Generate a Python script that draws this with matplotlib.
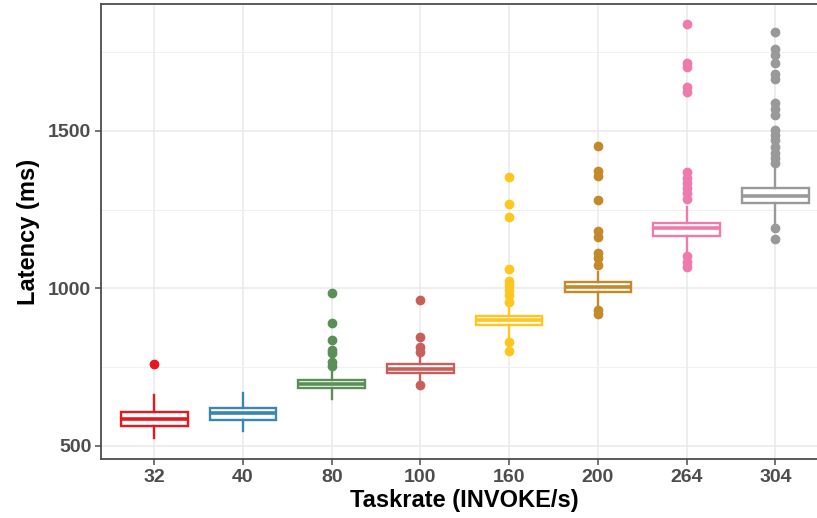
import matplotlib
matplotlib.use("Agg")
import matplotlib.pyplot as plt
from matplotlib.ticker import MultipleLocator

categories = ["32", "40", "80", "100", "160", "200", "264", "304"]
colors = ["#E8171F", "#3A86B0", "#5B8F58", "#C95F5A", "#FFC61E", "#C4892B", "#EE7BAC", "#999999"]

q1 = [563, 581, 682, 731, 883, 987, 1166, 1270]
medians = [585, 603, 697, 745, 898, 1003, 1191, 1293]
q3 = [606, 620, 710, 758, 912, 1019, 1206, 1318]
whisker_low = [523, 548, 648, 709, 846, 942, 1111, 1196]
whisker_high = [660, 667, 735, 783, 942, 1053, 1257, 1386]
outliers = [
    [760],
    [],
    [984, 889, 836, 805, 795, 765, 752],
    [962, 845, 814, 798, 694],
    [1352, 1268, 1228, 1062, 1024, 1010, 994, 979, 957, 828, 802],
    [1453, 1374, 1358, 1281, 1183, 1162, 1111, 1095, 1074, 931, 917],
    [1840, 1715, 1704, 1638, 1623, 1368, 1349, 1333, 1318, 1302, 1284, 1102, 1084, 1068],
    [1815, 1759, 1741, 1717, 1681, 1665, 1588, 1571, 1551, 1503, 1487, 1471, 1450,
     1429, 1413, 1397, 1191, 1156],
]

fig = plt.figure(figsize=(8.17, 5.18), dpi=100)
ax = fig.add_axes([101 / 817, 1 - 459.3 / 518, (828.6 - 101) / 817, (459.3 - 4) / 518])

stats = []
for i in range(len(categories)):
    stats.append(dict(med=medians[i], q1=q1[i], q3=q3[i],
                      whislo=whisker_low[i], whishi=whisker_high[i],
                      fliers=outliers[i], label=categories[i]))

positions = list(range(1, len(categories) + 1))
for i, st in enumerate(stats):
    c = colors[i]
    ax.bxp([st], positions=[positions[i]], widths=0.75, showcaps=False,
           patch_artist=True,
           boxprops=dict(facecolor="white", edgecolor=c, linewidth=1.7),
           medianprops=dict(color=c, linewidth=2.6, solid_capstyle="butt"),
           whiskerprops=dict(color=c, linewidth=1.7),
           flierprops=dict(marker="o", markerfacecolor=c, markeredgecolor=c,
                           markersize=6.0, linestyle="none"),
           zorder=3)

ax.set_xlim(0.4, 8.6)
ax.set_ylim(456.8, 1903.1)
ax.set_xticks(positions)
ax.set_xticklabels(categories)
ax.yaxis.set_major_locator(MultipleLocator(500))
ax.yaxis.set_minor_locator(MultipleLocator(250))

ax.grid(which="major", color="#EBEBEB", linewidth=1.2, zorder=0)
ax.grid(which="minor", axis="y", color="#F0F0F0", linewidth=0.7, zorder=0)
ax.set_axisbelow(True)

for side in ["left", "bottom", "top", "right"]:
    ax.spines[side].set_color("#4D4D4D")
    ax.spines[side].set_linewidth(1.3)

ax.tick_params(axis="both", which="major", length=4, width=1.1, color="#4D4D4D",
               labelcolor="#4D4D4D", labelsize=14, pad=3)
ax.tick_params(axis="y", which="minor", length=0)
for lab in ax.get_xticklabels() + ax.get_yticklabels():
    lab.set_fontweight("bold")
    lab.set_family("Liberation Sans")

ax.set_xlabel("Taskrate (INVOKE/s)", fontsize=17, fontweight="bold",
              family="Liberation Sans", color="black", labelpad=2)
ax.set_ylabel("Latency (ms)", fontsize=17, fontweight="bold",
              family="Liberation Sans", color="black", labelpad=6)

fig.savefig("out.png", dpi=100)
